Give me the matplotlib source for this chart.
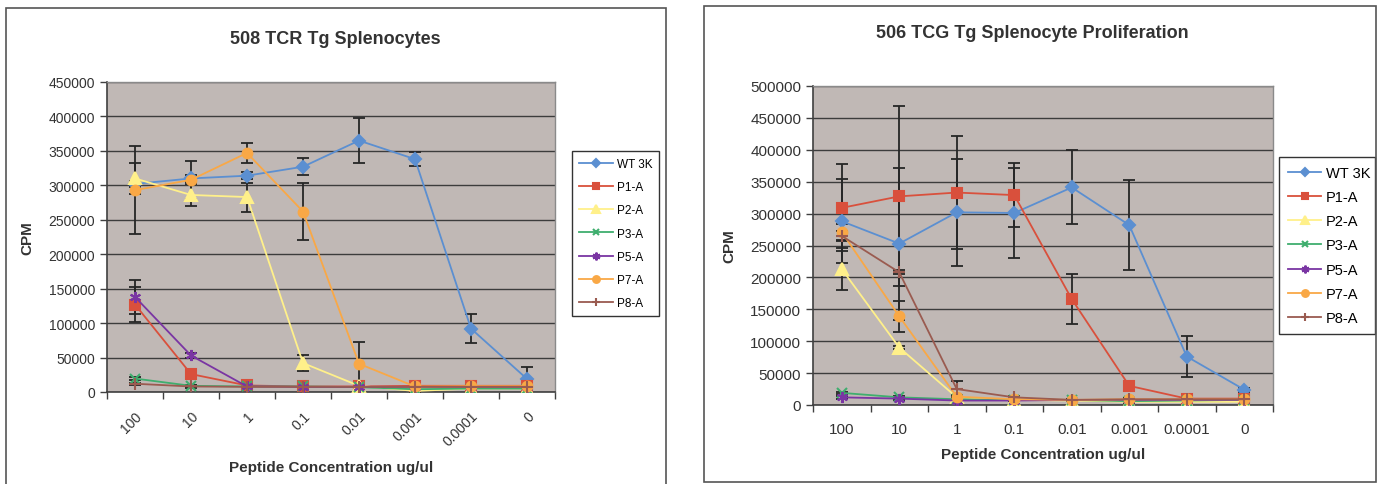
import numpy as np
import matplotlib
matplotlib.use("Agg")
import matplotlib.pyplot as plt
from matplotlib import patches

plt.rcParams['font.family'] = ['Liberation Sans', 'DejaVu Sans']

# Shared categories
conc = ['100', '10', '1', '0.1', '0.01', '0.001', '0.0001', '0']
series_names = ['WT 3K', 'P1-A', 'P2-A', 'P3-A', 'P5-A', 'P7-A', 'P8-A']

# Left chart: 508 TCR Tg Splenocytes
wt_a = [302000, 310000, 314000, 327000, 365000, 338000, 92000, 19000]
wt_a_err = [4000, 5000, 5000, 12000, 33000, 10000, 21000, 17000]
p1_a = [127000, 26000, 9500, 8000, 8000, 9000, 9000, 9000]
p1_a_err = [26000, 5000, 1500, 1500, 1500, 1500, 1500, 1500]
p2_a = [310000, 286000, 283000, 42000, 9000, 1500, 5000, 5000]
p2_a_err = [22000, 16000, 21000, 12000, 1500, 1500, 1500, 1500]
p3_a = [19500, 9000, 8000, 8000, 7000, 4000, 5000, 5000]
p3_a_err = [2000, 1500, 1500, 1500, 1500, 1500, 1500, 1500]
p5_a = [138000, 53000, 8000, 7500, 7500, 7500, 7500, 7500]
p5_a_err = [25000, 3000, 1500, 1500, 1500, 1500, 1500, 1500]
p7_a = [293000, 308000, 347000, 262000, 41000, 8000, 8500, 8500]
p7_a_err = [64000, 28000, 14000, 41000, 31000, 2000, 2000, 2000]
p8_a = [12000, 8000, 7500, 7500, 7500, 7500, 7500, 7500]
p8_a_err = [1500, 1500, 1500, 1500, 1500, 1500, 1500, 1500]

# Right chart: 506 TCG Tg Splenocyte Proliferation
wt_b = [288000, 253000, 302000, 301000, 341000, 282000, 76000, 24000]
wt_b_err = [66000, 119000, 84000, 71000, 58000, 71000, 32000, 3000]
p1_b = [309000, 327000, 333000, 329000, 166000, 30000, 10000, 10000]
p1_b_err = [68000, 141000, 89000, 50000, 39000, 8000, 2000, 2000]
p2_b = [213000, 90000, 12000, 8000, 7000, 5000, 5000, 5000]
p2_b_err = [33000, 3000, 2000, 1500, 1500, 1500, 1500, 1500]
p3_b = [19000, 12000, 9000, 8000, 8000, 6000, 7000, 8000]
p3_b_err = [2000, 2000, 1500, 1500, 1500, 1500, 1500, 1500]
p5_b = [12000, 10000, 7000, 7000, 8000, 8000, 8000, 8000]
p5_b_err = [2000, 1500, 1500, 1500, 1500, 1500, 1500, 1500]
p7_b = [271000, 139000, 13000, 9000, 8000, 9000, 9000, 9000]
p7_b_err = [12000, 24000, 2000, 2000, 2000, 2000, 2000, 2000]
p8_b = [265000, 208000, 25000, 12000, 8000, 9000, 9000, 9000]
p8_b_err = [8000, 3000, 12000, 2000, 1500, 1500, 1500, 1500]

colors = ['#5b8fd1', '#d9503c', '#fff08a', '#3fae6e', '#7a35a3', '#f9a846', '#9a5b50']
markers = ['D', 's', '^', 'x', (6, 2, 0), 'o', '+']
msizes = [6, 6.5, 8, 7, 8, 7, 9]

bg = '#c0b8b5'
grid_c = '#3c3c3c'


def draw_chart(ax, data, errs, ymax, ystep, fs_tick, fs_leg, rotate, legend_box,
               hlen, lspace):
    x = np.arange(len(conc))
    ax.set_facecolor(bg)
    for i, (vals, err) in enumerate(zip(data, errs)):
        ax.errorbar(x, vals, yerr=err, fmt='none', ecolor='#262626',
                    elinewidth=1.3, capsize=4, capthick=1.3, zorder=3)
        ax.plot(x, vals, color=colors[i], lw=1.3, marker=markers[i],
                ms=msizes[i], mfc=colors[i], mec=colors[i], mew=1.5,
                label=series_names[i], zorder=4 + i)
    ax.set_xlim(-0.5, len(conc) - 0.5)
    ax.set_ylim(0, ymax)
    ax.set_yticks(np.arange(0, ymax + 1, ystep))
    ax.yaxis.grid(True, color=grid_c, lw=1.0)
    ax.set_axisbelow(True)
    ax.set_xticks(x)
    if rotate:
        ax.set_xticklabels(conc, rotation=45, ha='right', va='top',
                           rotation_mode='anchor', fontsize=fs_tick, color='#333333')
    else:
        ax.set_xticklabels(conc, fontsize=fs_tick, color='#333333')
    ax.set_xticks(np.arange(-0.5, len(conc)), minor=True)
    ax.tick_params(axis='x', which='major', length=0, pad=12)
    ax.tick_params(axis='x', which='minor', length=5, width=1, color='#404040')
    ax.tick_params(axis='y', length=5, width=1, color='#404040',
                   labelsize=fs_tick, labelcolor='#333333')
    for s in ['left', 'bottom']:
        ax.spines[s].set_color('#404040')
        ax.spines[s].set_linewidth(1.2)
    for s in ['top', 'right']:
        ax.spines[s].set_color('#8a8a8a')
        ax.spines[s].set_linewidth(1.0)
    leg = ax.legend(loc='center', bbox_to_anchor=legend_box, mode='expand',
                    bbox_transform=ax.figure.transFigure, fontsize=fs_leg,
                    frameon=True, fancybox=False, edgecolor='#333333',
                    framealpha=1, numpoints=1, handlelength=hlen,
                    markerscale=0.7, labelspacing=lspace, borderpad=0.6,
                    handletextpad=0.3, borderaxespad=0)
    leg.get_frame().set_linewidth(1.0)
    return leg


fig = plt.figure(figsize=(13.82, 4.85), dpi=100)
W, H = 1382, 485


def fx(px):
    return px / W


def fy(py):
    return 1 - py / H


# Panel frames
fig.patches.append(patches.Rectangle((fx(6), fy(490)), fx(660), 481 / H,
                                     transform=fig.transFigure, fill=False,
                                     edgecolor='#555555', lw=1.2))
fig.patches.append(patches.Rectangle((fx(704), fy(483)), fx(672), 476 / H,
                                     transform=fig.transFigure, fill=False,
                                     edgecolor='#555555', lw=1.2))

ax1 = fig.add_axes([fx(107), fy(393), fx(448), 310 / H])
draw_chart(ax1,
           [wt_a, p1_a, p2_a, p3_a, p5_a, p7_a, p8_a],
           [wt_a_err, p1_a_err, p2_a_err, p3_a_err, p5_a_err, p7_a_err, p8_a_err],
           450000, 50000, 10, 8.5, True,
           (fx(572), fy(318), fx(87), 167 / H), 2.9, 0.95)
ax1.set_ylabel('CPM', fontsize=11, fontweight='bold', color='#333333', labelpad=10)
ax1.set_xlabel('Peptide Concentration ug/ul', fontsize=11, fontweight='bold',
               color='#333333', labelpad=8)
fig.text(fx(335), fy(40), '508 TCR Tg Splenocytes', ha='center', va='center',
         fontsize=13, fontweight='bold', color='#333333')

ax2 = fig.add_axes([fx(813), fy(406), fx(460), 319 / H])
draw_chart(ax2,
           [wt_b, p1_b, p2_b, p3_b, p5_b, p7_b, p8_b],
           [wt_b_err, p1_b_err, p2_b_err, p3_b_err, p5_b_err, p7_b_err, p8_b_err],
           500000, 50000, 11, 10.5, False,
           (fx(1279), fy(336), fx(96), 179 / H), 2.3, 0.7)
ax2.set_ylabel('CPM', fontsize=11, fontweight='bold', color='#333333', labelpad=10)
ax2.set_xlabel('Peptide Concentration ug/ul', fontsize=11, fontweight='bold',
               color='#333333', labelpad=8)
fig.text(fx(1032), fy(34), '506 TCG Tg Splenocyte Proliferation', ha='center',
         va='center', fontsize=13, fontweight='bold', color='#333333')

fig.savefig('out.png', dpi=100)
